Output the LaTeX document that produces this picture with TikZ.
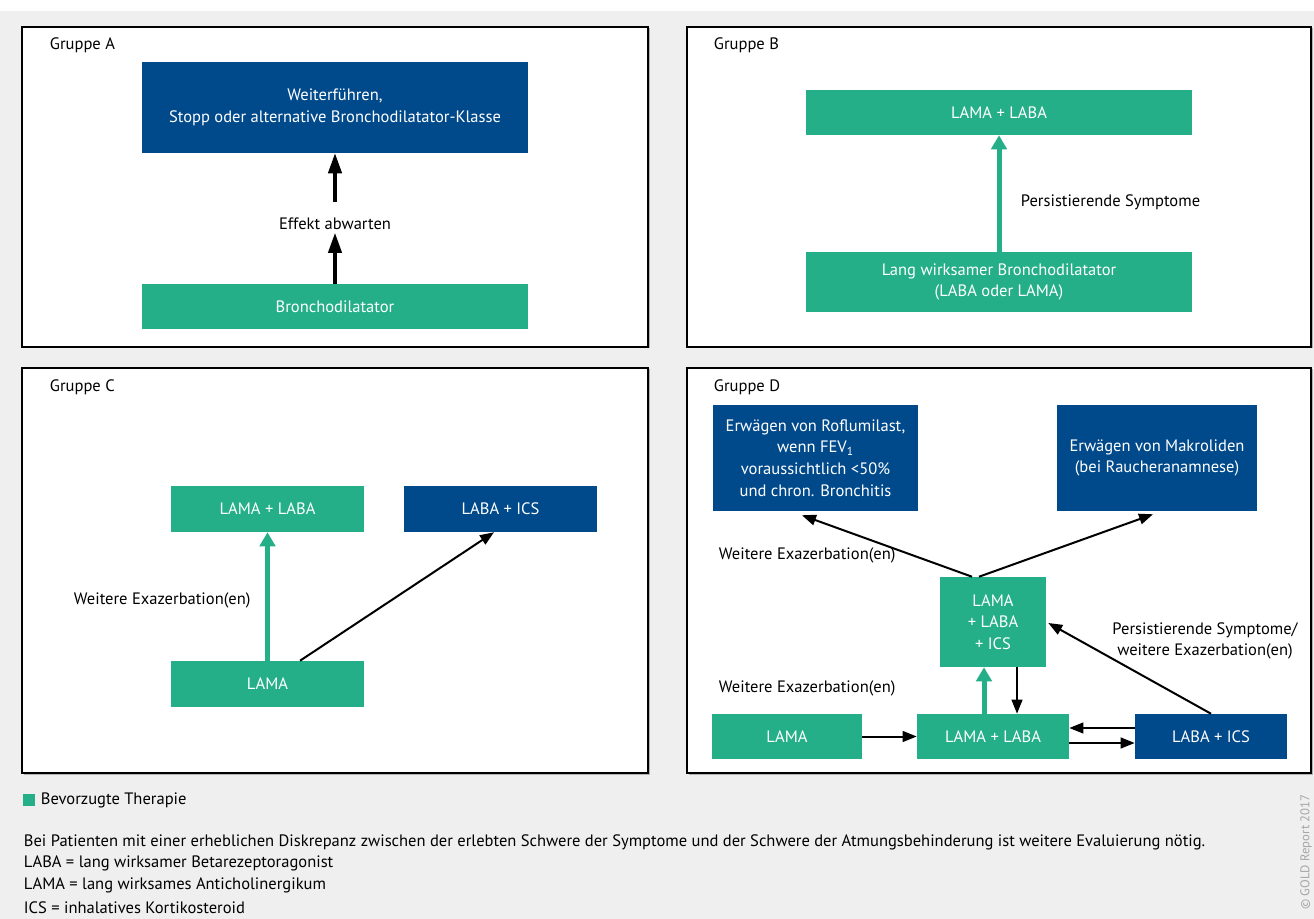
\documentclass[tikz,border=0pt]{standalone}
\usepackage{fontspec}
\setmainfont{PT Sans}
\usetikzlibrary{arrows.meta,calc}
\definecolor{gogreen}{RGB}{36,175,137}
\definecolor{goblue}{RGB}{0,74,139}
\definecolor{bggray}{RGB}{239,239,239}
\begin{document}
\begin{tikzpicture}[x=0.75pt,y=-0.75pt,
  font=\fontsize{12.4}{16.2}\selectfont,
  panel/.style={draw=black,line width=1.1pt,fill=white},
  shadow/.style={fill=black!30},
  gbox/.style={fill=gogreen,text=white,inner sep=0pt,align=center},
  bbox/.style={fill=goblue,text=white,inner sep=0pt,align=center},
  lbl/.style={text=black,inner sep=2pt,align=center},
  blkA/.style={draw=black,line width=2.4pt,-{Triangle[length=15pt,width=10pt]}},
  blk/.style={draw=black,line width=1.5pt,-{Triangle[length=10.5pt,width=8pt]}},
  grn/.style={draw=gogreen,line width=3.75pt,-{Triangle[length=10.5pt,width=11.5pt]}}
]
\useasboundingbox (0,0) rectangle (1314,919);
\fill[bggray] (0,11) rectangle (1314,919);

% panels
\fill[shadow] (23.5,28.5) rectangle (649.5,348.5);
\draw[panel] (22,27) rectangle (648,347);
\fill[shadow] (688.5,28.5) rectangle (1312.5,348.5);
\draw[panel] (687,27) rectangle (1311,347);
\fill[shadow] (23.5,369.5) rectangle (649.5,774.5);
\draw[panel] (22,368) rectangle (648,773);
\fill[shadow] (688.5,369.5) rectangle (1312.5,774.5);
\draw[panel] (687,368) rectangle (1311,773);

% titles
\node[lbl,anchor=west] (tA) at (47,45) {Gruppe A};
\node[lbl,anchor=west] (tB) at (711,45) {Gruppe B};
\node[lbl,anchor=west] (tC) at (47,387) {Gruppe C};
\node[lbl,anchor=west] (tD) at (711,387) {Gruppe D};

% Gruppe A
\node[bbox,minimum width=289.5pt,minimum height=68.25pt] (A1) at (335,107.5)
  {Weiterführen,\\Stopp oder alternative Bronchodilatator-Klasse};
\node[gbox,minimum width=289.5pt,minimum height=33.75pt] (A2) at (335,306.5) {Bronchodilatator};
\node[lbl] (effekt) at (335,224) {Effekt abwarten};
\draw[blkA] (A2.north) -- (effekt.south);
\draw[blkA] ($(effekt.north)+(0,-13)$) -- (A1.south);

% Gruppe B
\node[gbox,minimum width=289.5pt,minimum height=33.75pt] (B1) at (999,112.5) {LAMA + LABA};
\node[gbox,minimum width=289.5pt,minimum height=45pt] (B2) at (999,282)
  {Lang wirksamer Bronchodilatator\\(LABA oder LAMA)};
\draw[grn] (B2.north) -- (B1.south);
\node[lbl,anchor=west] (persB) at (1018,202) {Persistierende Symptome};

% Gruppe C
\node[gbox,minimum width=144.75pt,minimum height=34.5pt] (C1) at (267.5,509) {LAMA + LABA};
\node[bbox,minimum width=144.75pt,minimum height=34.5pt] (C2) at (500.5,509) {LABA + ICS};
\node[gbox,minimum width=144.75pt,minimum height=34.5pt] (C3) at (267.5,684) {LAMA};
\draw[grn] (C3.north) -- (C1.south);
\draw[blk] ($(C3.north)+(32.5,0)$) -- ($(C2.south)+(-6.5,0)$);
\node[lbl,anchor=west] (exC) at (71,600) {Weitere Exazerbation(en)};

% Gruppe D
\node[bbox,minimum width=153.75pt,minimum height=79.5pt] (D1) at (815.5,458)
  {Erwägen von Roflumilast,\\wenn FEV\textsubscript{1}\\voraussichtlich <50\%\\und chron. Bronchitis};
\node[bbox,minimum width=150pt,minimum height=79.5pt] (D2) at (1157,458)
  {Erwägen von Makroliden\\(bei Raucheranamnese)};
\node[gbox,minimum width=79.5pt,minimum height=67.5pt] (D3) at (993,622)
  {LAMA\\+ LABA\\+ ICS};
\node[gbox,minimum width=112.5pt,minimum height=33.75pt] (D4) at (787,736.5) {LAMA};
\node[gbox,minimum width=114pt,minimum height=33.75pt] (D5) at (993,736.5) {LAMA + LABA};
\node[bbox,minimum width=114pt,minimum height=33.75pt] (D6) at (1211,736.5) {LABA + ICS};

\draw[blk] ($(D3.north)+(-21,0)$) -- ($(D1.south)+(-13.5,4)$);
\draw[blk] ($(D3.north)+(-14,0)$) -- ($(D2.south)+(-4,3)$);
\draw[blk] (D4.east) -- (D5.west);
\draw[grn] ($(D5.north)+(-9,0)$) -- ($(D3.south)+(-9,0)$);
\draw[blk] ($(D3.south)+(24,0)$) -- ($(D5.north)+(24,0)$);
\draw[blk] ($(D6.west)+(0,-8.5)$) -- ($(D5.east)+(0,-8.5)$);
\draw[blk] ($(D5.east)+(0,6.5)$) -- ($(D6.west)+(0,6.5)$);
\draw[blk] (D6.north) -- ($(D3.east)+(2,1)$);

\node[lbl,anchor=west] (exD1) at (716,555) {Weitere Exazerbation(en)};
\node[lbl,anchor=west] (exD2) at (716,688) {Weitere Exazerbation(en)};
\node[lbl] (persD) at (1205,641) {Persistierende Symptome/\\weitere Exazerbation(en)};

% footer
\fill[gogreen] (23,794) rectangle (35,806);
\node[lbl,anchor=west] (leg) at (38,800) {Bevorzugte Therapie};
\node[lbl,anchor=west] (f1) at (21,842) {Bei Patienten mit einer erheblichen Diskrepanz zwischen der erlebten Schwere der Symptome und der Schwere der Atmungsbehinderung ist weitere Evaluierung nötig.};
\node[lbl,anchor=west] (f2) at (21,863.5) {LABA = lang wirksamer Betarezeptoragonist};
\node[lbl,anchor=west] (f3) at (21,885.5) {LAMA = lang wirksames Anticholinergikum};
\node[lbl,anchor=west] (f4) at (21,907.5) {ICS = inhalatives Kortikosteroid};

\node[rotate=90,text=black!35,font=\fontsize{9.5}{11}\selectfont] (copy) at (1306,852) {© GOLD Report 2017};
\end{tikzpicture}
\end{document}
